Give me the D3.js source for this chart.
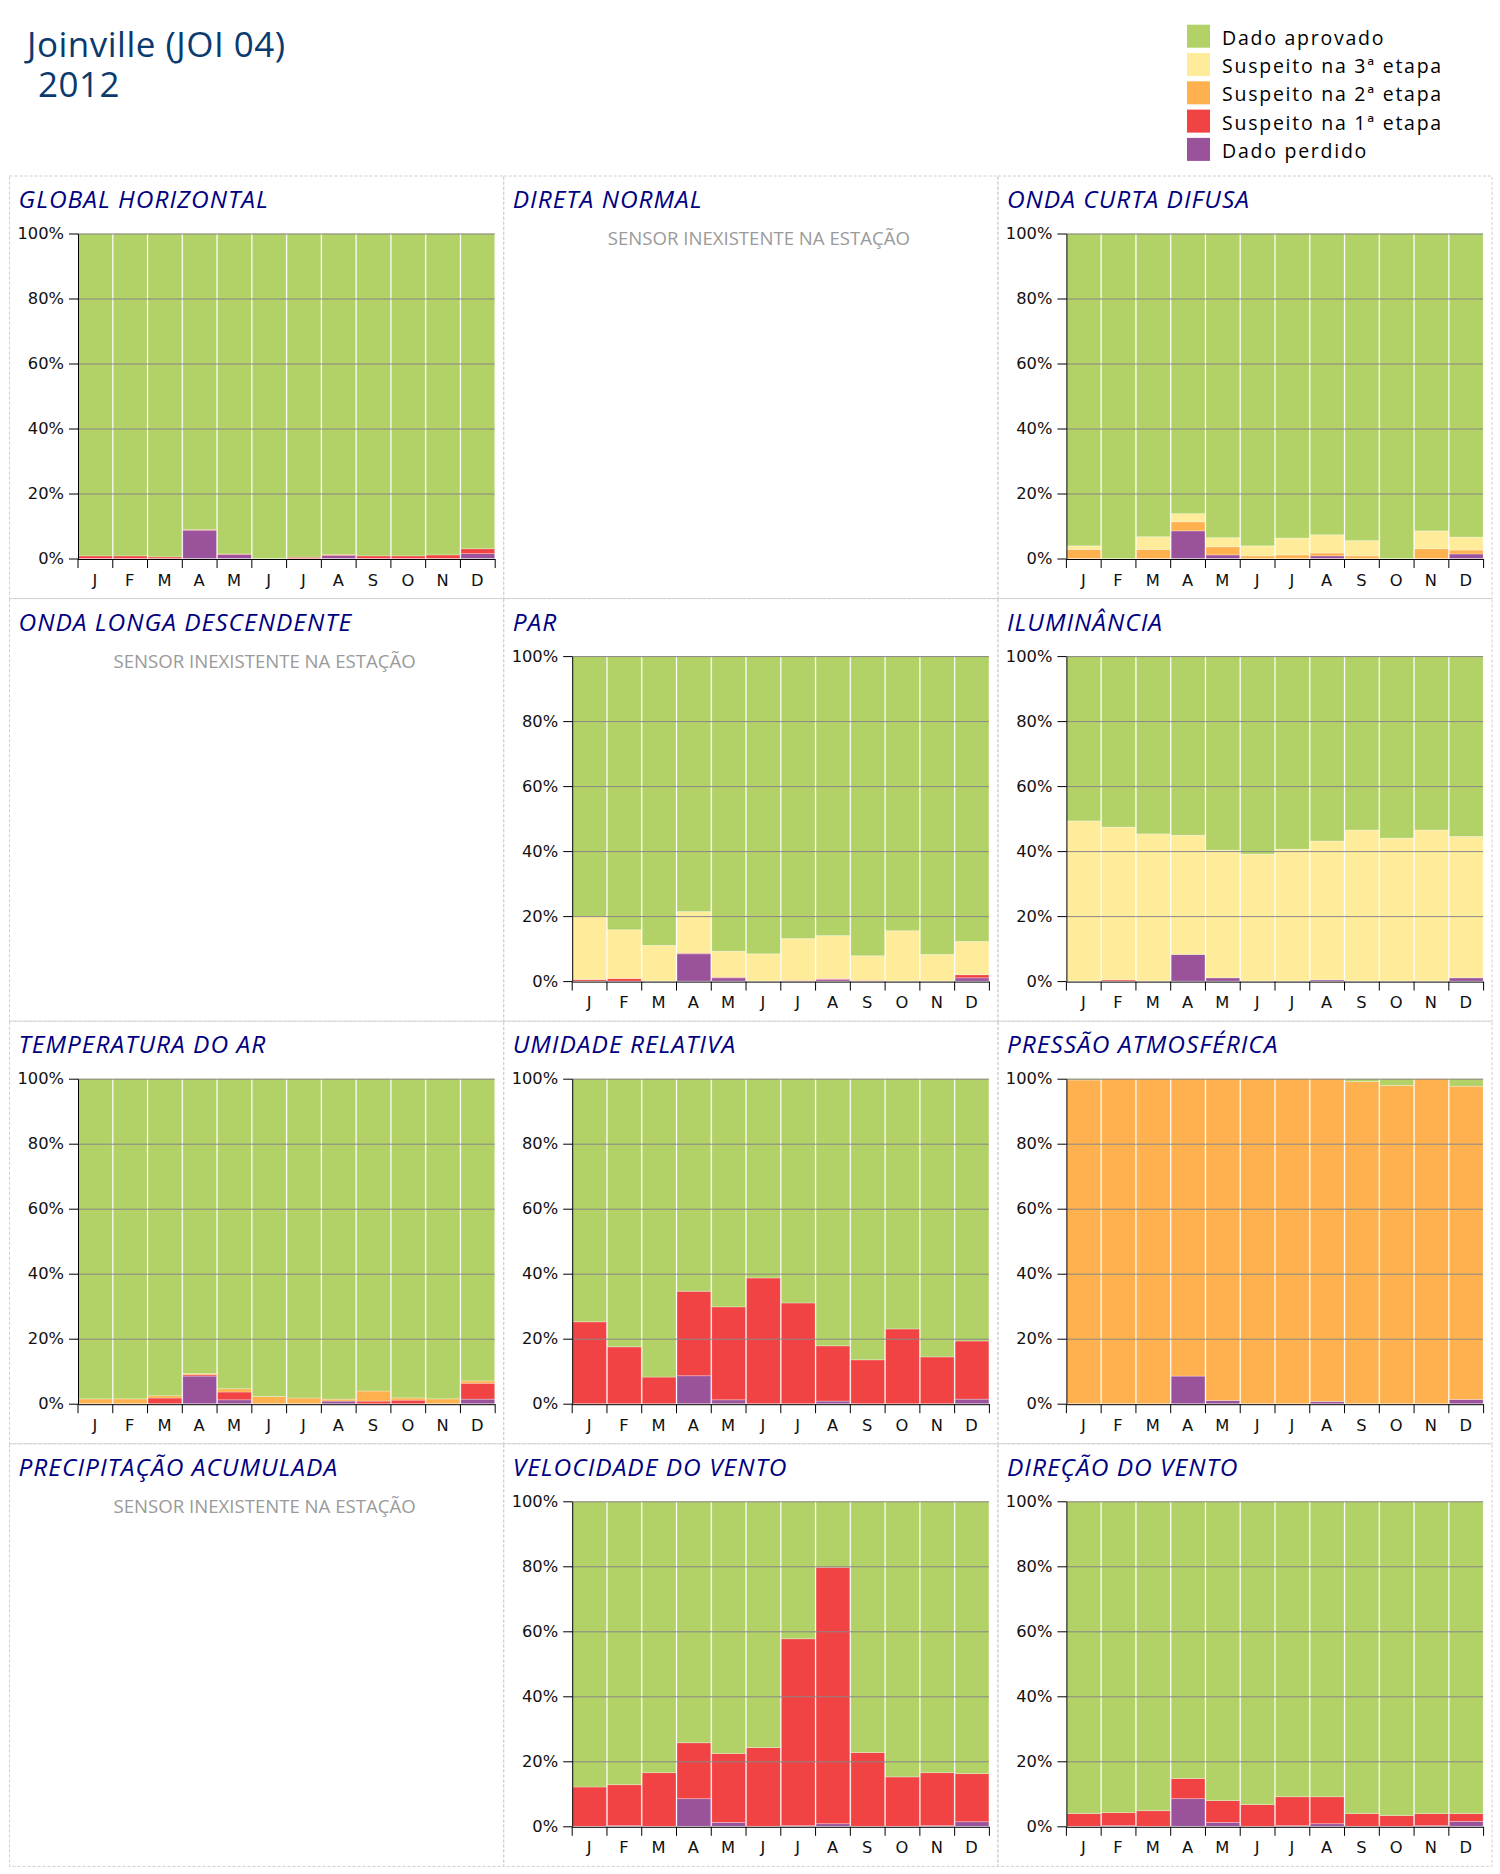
<!DOCTYPE html>
<html>
<head>
<meta charset="utf-8">
<script src="https://cdn.jsdelivr.net/npm/d3@7"></script>
<style>
  body { margin: 0; background: #fff; }
  svg { display: block; }
</style>
</head>
<body>
<svg id="chart" width="1500" height="1874"></svg>
<script>
// ---------- categories / labels ----------
const months = ["J","F","M","A","M","J","J","A","S","O","N","D"];
const yTicks = [0, 20, 40, 60, 80, 100];
const statusKeys = ["perdido", "s1", "s2", "s3", "aprovado"];
const statusLabels = ["Dado aprovado", "Suspeito na 3ª etapa", "Suspeito na 2ª etapa", "Suspeito na 1ª etapa", "Dado perdido"];
const statusLegendKeys = ["aprovado", "s3", "s2", "s1", "perdido"];
const statusColors = { aprovado: "#b2d166", s3: "#feec9a", s2: "#feb14e", s1: "#f14343", perdido: "#9a539b" };
const stationTitle = "Joinville (JOI 04)";
const yearTitle = "2012";
const noSensorText = "SENSOR INEXISTENTE NA ESTAÇÃO";

// ---------- GLOBAL HORIZONTAL ----------
const ghPerdido  = [0, 0, 0, 8.7, 1.2, 0, 0, 0.9, 0, 0, 0, 1.5];
const ghS1       = [0.8, 0.8, 0.5, 0.2, 0.2, 0, 0.4, 0.3, 0.8, 0.8, 1.1, 1.5];
const ghS2       = [0, 0, 0, 0, 0, 0, 0, 0, 0, 0, 0, 0];
const ghS3       = [0, 0, 0, 0, 0, 0, 0, 0, 0, 0, 0, 0];
const ghAprovado = [99.2, 99.2, 99.5, 91.1, 98.6, 100, 99.6, 98.8, 99.2, 99.2, 98.9, 97.0];

// ---------- ONDA CURTA DIFUSA ----------
const ocPerdido  = [0, 0, 0, 8.5, 1.1, 0, 0, 0.8, 0, 0, 0, 1.4];
const ocS1       = [0, 0, 0, 0, 0, 0, 0, 0, 0, 0, 0, 0];
const ocS2       = [2.8, 0, 2.8, 2.8, 2.5, 0.8, 1.1, 0.9, 0.8, 0, 3.0, 1.2];
const ocS3       = [1.1, 0, 3.9, 2.5, 2.8, 3.1, 5.2, 5.6, 4.7, 0, 5.5, 4.0];
const ocAprovado = [96.1, 100, 93.3, 86.2, 93.6, 96.1, 93.7, 92.7, 94.5, 100, 91.5, 93.4];

// ---------- PAR ----------
const parPerdido  = [0, 0, 0, 8.4, 1.0, 0, 0, 0.5, 0, 0, 0, 1.0];
const parS1       = [0.5, 0.8, 0, 0.2, 0.2, 0, 0.2, 0.3, 0.2, 0, 0, 0.95];
const parS2       = [0, 0, 0, 0, 0, 0, 0, 0, 0, 0, 0, 0];
const parS3       = [19.4, 15.0, 11.0, 12.8, 8.0, 8.4, 12.9, 13.2, 7.6, 15.5, 8.2, 10.25];
const parAprovado = [80.1, 84.2, 89.0, 78.6, 90.8, 91.6, 86.9, 86.0, 92.2, 84.5, 91.8, 87.8];

// ---------- ILUMINÂNCIA ----------
const ilPerdido  = [0, 0, 0, 8.2, 1.0, 0, 0, 0.4, 0, 0, 0, 1.0];
const ilS1       = [0, 0.4, 0, 0, 0, 0, 0, 0, 0, 0, 0, 0];
const ilS2       = [0, 0, 0, 0, 0, 0, 0, 0, 0, 0, 0, 0];
const ilS3       = [49.3, 47.0, 45.3, 36.7, 39.3, 39.1, 40.6, 42.7, 46.5, 44.0, 46.5, 43.5];
const ilAprovado = [50.7, 52.6, 54.7, 55.1, 59.7, 60.9, 59.4, 56.9, 53.5, 56.0, 53.5, 55.5];

// ---------- TEMPERATURA DO AR ----------
const taPerdido  = [0, 0, 0, 8.5, 1.2, 0, 0, 0.8, 0, 0, 0, 1.4];
const taS1       = [0, 0, 1.75, 0.4, 2.4, 0, 0, 0, 0.8, 1.1, 0, 4.9];
const taS2       = [1.5, 1.5, 0.7, 0.4, 1.0, 2.2, 1.75, 0.6, 3.1, 0.7, 1.5, 0.7];
const taS3       = [0, 0, 0, 0, 0, 0, 0, 0, 0, 0, 0, 0];
const taAprovado = [98.5, 98.5, 97.55, 90.7, 95.4, 97.8, 98.25, 98.6, 96.1, 98.2, 98.5, 93.0];

// ---------- UMIDADE RELATIVA ----------
const urPerdido  = [0, 0, 0, 8.6, 1.2, 0, 0, 0.8, 0, 0, 0, 1.4];
const urS1       = [25.2, 17.5, 8.2, 26.0, 28.6, 38.7, 31.0, 17.0, 13.5, 23.0, 14.4, 17.9];
const urS2       = [0, 0, 0, 0, 0, 0, 0, 0, 0, 0, 0, 0];
const urS3       = [0, 0, 0, 0, 0, 0, 0, 0, 0, 0, 0, 0];
const urAprovado = [74.8, 82.5, 91.8, 65.4, 70.2, 61.3, 69.0, 82.2, 86.5, 77.0, 85.6, 80.7];

// ---------- PRESSÃO ATMOSFÉRICA ----------
const paPerdido  = [0, 0, 0, 8.5, 1.0, 0, 0, 0.7, 0, 0, 0, 1.3];
const paS1       = [0, 0, 0, 0, 0, 0, 0, 0, 0, 0, 0, 0];
const paS2       = [99.6, 100, 100, 91.5, 99.0, 100, 100, 99.3, 99.1, 97.9, 100, 96.4];
const paS3       = [0, 0, 0, 0, 0, 0, 0, 0, 0, 0, 0, 0];
const paAprovado = [0.4, 0, 0, 0, 0, 0, 0, 0, 0.9, 2.1, 0, 2.3];

// ---------- VELOCIDADE DO VENTO ----------
const vvPerdido  = [0, 0.2, 0, 8.5, 1.2, 0, 0.2, 0.8, 0, 0, 0.2, 1.4];
const vvS1       = [12.1, 12.6, 16.5, 17.2, 21.2, 24.2, 57.5, 78.9, 22.7, 15.2, 16.3, 14.8];
const vvS2       = [0, 0, 0, 0, 0, 0, 0, 0, 0, 0, 0, 0];
const vvS3       = [0, 0, 0, 0, 0, 0, 0, 0, 0, 0, 0, 0];
const vvAprovado = [87.9, 87.2, 83.5, 74.3, 77.6, 75.8, 42.3, 20.3, 77.3, 84.8, 83.5, 83.8];

// ---------- DIREÇÃO DO VENTO ----------
const dvPerdido  = [0, 0.2, 0, 8.5, 1.2, 0, 0.2, 0.8, 0, 0, 0.2, 1.5];
const dvS1       = [3.9, 4.0, 4.8, 6.2, 6.7, 6.7, 8.9, 8.3, 3.9, 3.3, 3.7, 2.4];
const dvS2       = [0, 0, 0, 0, 0, 0, 0, 0, 0, 0, 0, 0];
const dvS3       = [0, 0, 0, 0, 0, 0, 0, 0, 0, 0, 0, 0];
const dvAprovado = [96.1, 95.8, 95.2, 85.3, 92.1, 93.3, 90.9, 90.9, 96.1, 96.7, 96.1, 96.1];

// ---------- panel list (built from the arrays above) ----------
function series(perdido, s1, s2, s3, aprovado) {
  return months.map((m, i) => ({ i, perdido: perdido[i], s1: s1[i], s2: s2[i], s3: s3[i], aprovado: aprovado[i] }));
}
const panels = [
  { title: "GLOBAL HORIZONTAL", rows: series(ghPerdido, ghS1, ghS2, ghS3, ghAprovado) },
  { title: "DIRETA NORMAL", rows: null },
  { title: "ONDA CURTA DIFUSA", rows: series(ocPerdido, ocS1, ocS2, ocS3, ocAprovado) },
  { title: "ONDA LONGA DESCENDENTE", rows: null },
  { title: "PAR", rows: series(parPerdido, parS1, parS2, parS3, parAprovado) },
  { title: "ILUMINÂNCIA", rows: series(ilPerdido, ilS1, ilS2, ilS3, ilAprovado) },
  { title: "TEMPERATURA DO AR", rows: series(taPerdido, taS1, taS2, taS3, taAprovado) },
  { title: "UMIDADE RELATIVA", rows: series(urPerdido, urS1, urS2, urS3, urAprovado) },
  { title: "PRESSÃO ATMOSFÉRICA", rows: series(paPerdido, paS1, paS2, paS3, paAprovado) },
  { title: "PRECIPITAÇÃO ACUMULADA", rows: null },
  { title: "VELOCIDADE DO VENTO", rows: series(vvPerdido, vvS1, vvS2, vvS3, vvAprovado) },
  { title: "DIREÇÃO DO VENTO", rows: series(dvPerdido, dvS1, dvS2, dvS3, dvAprovado) }
];

// ---------- drawing ----------
const svg = d3.select("#chart");
svg.append("rect").attr("width", 1500).attr("height", 1874).attr("fill", "#fff");

// header (one text element, two lines)
const head = svg.append("text")
  .attr("font-family", "'Open Sans', sans-serif").attr("font-size", 35)
  .attr("letter-spacing", 0.5).attr("fill", "#0b3a6e");
head.append("tspan").attr("x", 27).attr("y", 57).text(stationTitle);
head.append("tspan").attr("x", 38).attr("y", 97).text(yearTitle);

// legend
const legend = svg.append("g");
statusLegendKeys.forEach((k, i) => {
  const g = legend.append("g").attr("transform", `translate(1187, ${24.7 + i * 28.3})`);
  g.append("rect").attr("width", 23).attr("height", 23).attr("fill", statusColors[k]);
  g.append("text").attr("x", 35).attr("y", 20)
    .attr("font-family", "'Open Sans', sans-serif").attr("font-size", 19.5)
    .attr("letter-spacing", 1.75).attr("fill", "#000").text(statusLabels[i]);
});

// grid of panels
const gridX0 = 9.5, gridY0 = 176, cellW = 494.2, cellH = 422.6;
const plotLeft = 68, plotRight = 9, plotTop = 57.5, plotBottom = 382.5;
const stack = d3.stack().keys(statusKeys);

panels.forEach((p, idx) => {
  const col = idx % 3, row = Math.floor(idx / 3);
  const px = gridX0 + col * cellW, py = gridY0 + row * cellH;
  const g = svg.append("g").attr("transform", `translate(${px},${py})`);

  g.append("rect").attr("x", 0).attr("y", 0).attr("width", cellW).attr("height", cellH)
    .attr("fill", "none").attr("stroke", "#cfcfcf").attr("stroke-width", 1)
    .attr("stroke-dasharray", "3,2");

  g.append("text").attr("x", 9).attr("y", 32)
    .attr("font-family", "'Open Sans', sans-serif").attr("font-style", "italic")
    .attr("font-size", 24.5).attr("letter-spacing", 1.0).attr("fill", "#000080").text(p.title);

  if (!p.rows) {
    g.append("text").attr("x", cellW / 2 + 8).attr("y", 69).attr("text-anchor", "middle")
      .attr("font-family", "'Open Sans', sans-serif").attr("font-size", 18.6)
      .attr("fill", "#9a9a9a").text(noSensorText);
    return;
  }

  const x = d3.scaleBand().domain(months.map((m, i) => i)).range([plotLeft, cellW - plotRight]).padding(0);
  const xEdge = d3.scaleLinear().domain([0, 12]).range([plotLeft, cellW - plotRight]);
  const y = d3.scaleLinear().domain([0, 100]).range([plotBottom, plotTop]);
  const stacked = stack(p.rows);

  const bars = g.append("g");
  stacked.forEach(layer => {
    bars.append("g").attr("fill", statusColors[layer.key])
      .selectAll("rect").data(layer.filter(d => d[1] - d[0] > 0)).join("rect")
      .attr("x", d => x(d.data.i) + 1)
      .attr("width", x.bandwidth() - 1)
      .attr("y", d => y(Math.min(100, d[1])))
      .attr("height", d => y(d[0]) - y(Math.min(100, d[1])))
      .attr("stroke", "#fff").attr("stroke-opacity", 0.35).attr("stroke-width", 0.8);
  });

  // gridlines above bars
  g.append("g").selectAll("line").data(yTicks.filter(t => t > 0)).join("line")
    .attr("x1", plotLeft).attr("x2", cellW - plotRight)
    .attr("y1", d => y(d) + 0.5).attr("y2", d => y(d) + 0.5)
    .attr("stroke", "#888").attr("stroke-width", 1);

  // y axis
  const ya = g.append("g").attr("transform", `translate(${plotLeft + 0.5},0)`)
    .call(d3.axisLeft(y).tickValues(yTicks).tickFormat(d => d + "%").tickSize(9).tickSizeOuter(0).tickPadding(5));
  // x axis edges (ticks at month boundaries)
  const xa = g.append("g").attr("transform", `translate(0,${plotBottom + 0.5})`)
    .call(d3.axisBottom(xEdge).tickValues(d3.range(13)).tickFormat("").tickSize(9).tickSizeOuter(0));
  // x labels
  const xl = g.append("g").attr("transform", `translate(0,${plotBottom + 0.5})`)
    .call(d3.axisBottom(x).tickFormat(i => months[i]).tickSize(0).tickPadding(15));
  xl.select(".domain").remove();

  [ya, xa, xl].forEach(a => {
    a.selectAll("text").attr("font-family", "'DejaVu Sans', sans-serif").attr("font-size", 16.3).attr("fill", "#111");
    a.selectAll("line").attr("stroke", "#000");
    a.selectAll(".domain").attr("stroke", "#000");
  });
});
</script>
</body>
</html>
